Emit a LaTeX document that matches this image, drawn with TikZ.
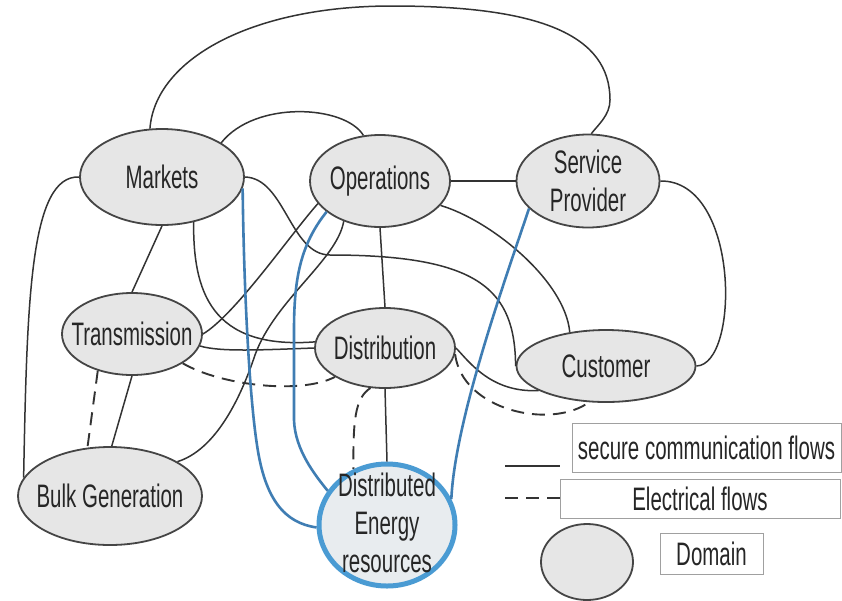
\documentclass[tikz,border=0pt]{standalone}
\usepackage{fontspec}
\setmainfont[FakeStretch=0.63]{Liberation Sans}
\usetikzlibrary{shapes.geometric}
\definecolor{lineC}{HTML}{333333}
\definecolor{fillC}{HTML}{E6E6E6}
\definecolor{fillE}{HTML}{E8ECEF}
\definecolor{edgeC}{HTML}{454545}
\definecolor{blueL}{HTML}{3F7DB3}
\definecolor{blueB}{HTML}{4A9BD3}
\definecolor{txtC}{HTML}{262626}
\definecolor{boxC}{HTML}{A0A0A0}
\begin{document}
\begin{tikzpicture}[x=1pt,y=-1pt,
  dom/.style={ellipse, draw=edgeC, line width=1.8pt, fill=fillC, inner sep=0pt, text=txtC, font=\fontsize{32.5}{39}\selectfont},
  lbl/.style={inner sep=0pt, text=txtC, align=center, font=\fontsize{32.5}{38}\selectfont},
  comm/.style={draw=lineC, line width=1.5pt},
  elec/.style={draw=lineC, line width=1.9pt, dash pattern=on 13pt off 8pt},
  bluecomm/.style={draw=blueL, line width=2.6pt},
  legbox/.style={draw=boxC, line width=0.8pt, inner sep=0pt, text=txtC, font=\fontsize{32.5}{39}\selectfont}
]
\fill[white] (0,0) rectangle (842,600);
\useasboundingbox (0,0) rectangle (842,600);

% domains
\node[dom, minimum width=164pt, minimum height=96pt] (M) at (162,177) {\makebox[0pt]{Markets}};
\node[dom, minimum width=140pt, minimum height=92pt] (O) at (380,181) {\makebox[0pt]{Operations}};
\node[dom, minimum width=143pt, minimum height=93pt] (S) at (588,181) {};
\node[lbl] (St) at (S) {Service\\Provider};
\node[dom, minimum width=140pt, minimum height=82pt] (T) at (132,334) {\makebox[0pt]{Transmission}};
\node[dom, minimum width=140pt, minimum height=80pt] (D) at (385,348) {\makebox[0pt]{Distribution}};
\node[dom, minimum width=179pt, minimum height=72pt] (C) at (606,366) {\makebox[0pt]{Customer}};
\node[dom, minimum width=184pt, minimum height=98pt] (B) at (110,496) {\makebox[0pt]{Bulk Generation}};
\node[dom, draw=blueB, line width=5pt, fill=fillE, minimum width=136pt, minimum height=122pt] (E) at (387,525) {};
\node[lbl] (Et) at (387,523) {Distributed\\Energy\\resources};

% secure communication flows
\draw[comm] (M.104) .. controls (155,60) and (250,6) .. (392,6)
  .. controls (540,6) and (610,35) .. (610,100)
  .. controls (610,115) and (598,125) .. (S.86);
\draw[comm] (M.30) .. controls (255,100) and (345,105) .. (O.110);
\draw[comm] (O.east) -- (S.west);
\draw[comm] (S.east) .. controls (740,180) and (740,365) .. (C.east);
\draw[comm] (M.west) .. controls (30,175) and (27,300) .. (B.168);
\draw[comm] (M.south) -- (T.north);
\draw[comm] (M.-55) .. controls (193,290) and (210,350) .. (D.175);
\draw[comm] (M.east) .. controls (285,178) and (290,255) .. (330,255)
  .. controls (480,255) and (515,290) .. (C.west);
\draw[comm] (O.-22) .. controls (490,220) and (565,280) .. (C.137);
\draw[comm] (D.east) .. controls (468,360) and (490,393) .. (C.200);
\draw[comm] (O.south) -- (D.north);
\draw[comm] (T.east) .. controls (235,315) and (290,235) .. (O.200);
\draw[comm] (T.-10) .. controls (220,352) and (260,350) .. (D.west);
\draw[comm] (T.south) -- (B.88);
\draw[comm] (B.27) .. controls (215,450) and (240,400) .. (255,355)
  .. controls (275,300) and (337,260) .. (O.228);
\draw[comm] (D.south) -- (E.north);

% electrical flows
\draw[elec] (D.-5) .. controls (462,410) and (550,430) .. (C.245);
\draw[elec] (T.-30) .. controls (220,385) and (300,395) .. (D.210);
\draw[elec] (T.227) -- (B.115);
\draw[elec] (D.250) .. controls (355,398) and (353,420) .. (E.121);

% DER communication (blue)
\draw[bluecomm] (M.-8) .. controls (244,300) and (250,400) .. (257,445)
  .. controls (265,500) and (285,523) .. (E.182);
\draw[bluecomm] (O.210) .. controls (300,245) and (294,280) .. (294,330) -- (294,420)
  .. controls (295,450) and (315,475) .. (E.150);
\draw[bluecomm] (S.205) .. controls (505,280) and (455,420) .. (E.22);

% legend
\coordinate (ls1) at (505,466);
\coordinate (ls2) at (560,466);
\draw[comm] (ls1) -- (ls2);
\coordinate (le1) at (505,498);
\coordinate (le2) at (560,498);
\draw[elec] (le1) -- (le2);
\node[legbox, minimum width=269pt, minimum height=49pt] (L1) at (706.5,447.5) {secure communication flows};
\node[legbox, minimum width=280pt, minimum height=39pt] (L2) at (700,498.5) {Electrical flows};
\node[legbox, minimum width=103pt, minimum height=41pt] (L3) at (711.5,553.5) {Domain};
\node[dom, minimum width=92pt, minimum height=76pt] (LD) at (587,562) {};
\end{tikzpicture}
\end{document}
